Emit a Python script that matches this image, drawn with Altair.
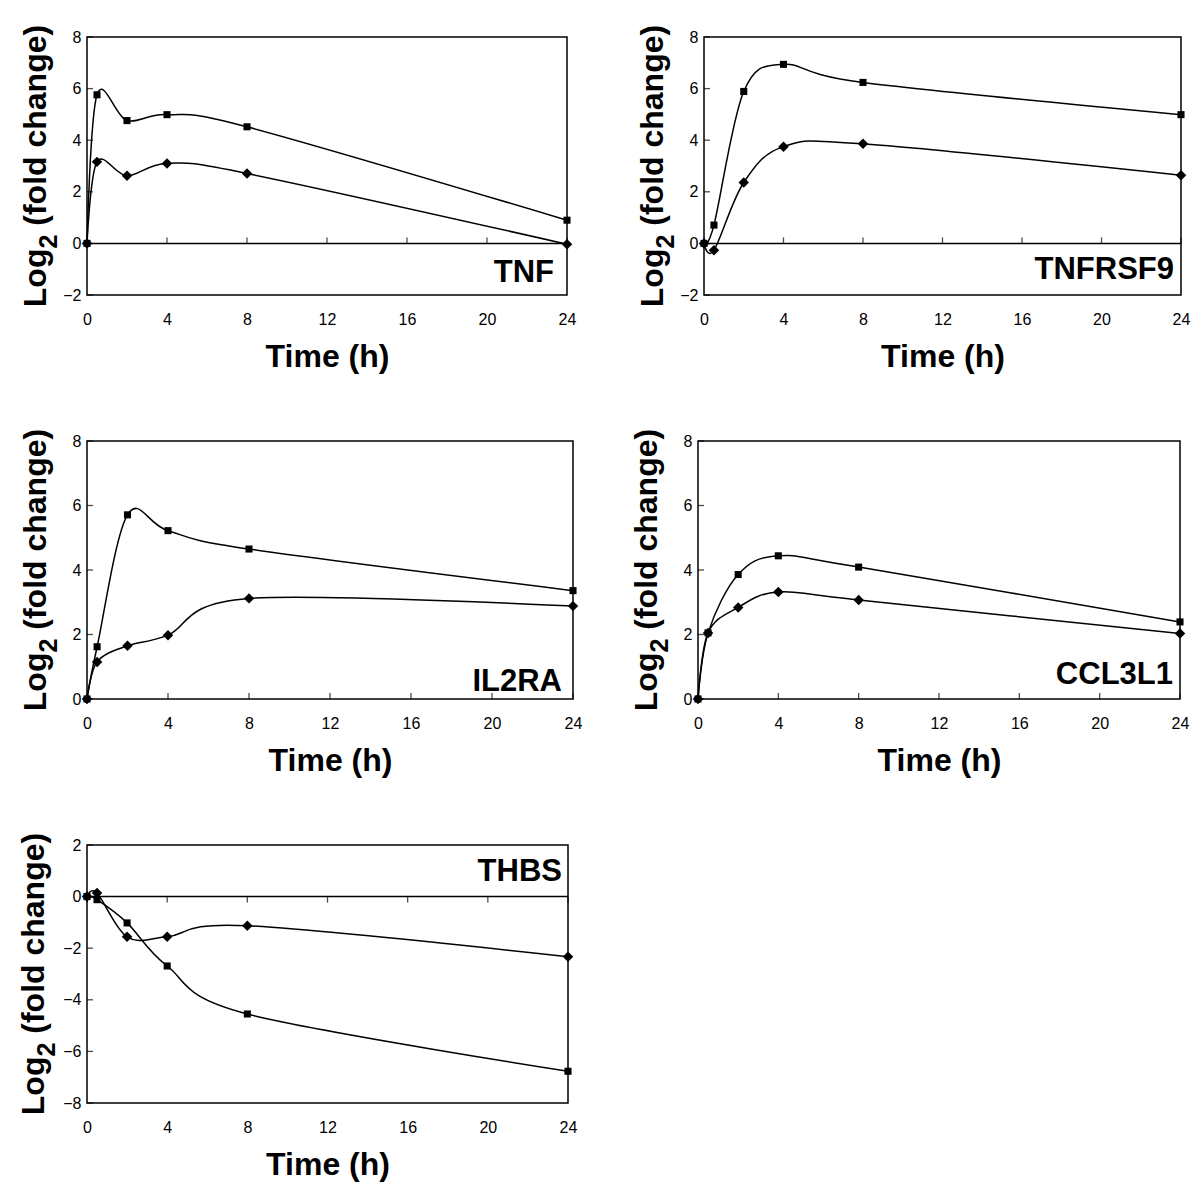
import altair as alt
import pandas as pd

# ---- data ----
TIME = [0, 0.5, 2, 4, 8, 24]

TNF_SQ = [0, 5.76, 4.76, 4.99, 4.52, 0.90]
TNF_DI = [0, 3.16, 2.62, 3.10, 2.71, -0.03]

TNFRSF9_SQ = [0, 0.71, 5.89, 6.94, 6.24, 4.99]
TNFRSF9_DI = [0, -0.27, 2.36, 3.75, 3.86, 2.64]

IL2RA_SQ = [0, 1.62, 5.71, 5.22, 4.65, 3.36]
IL2RA_DI = [0, 1.15, 1.65, 1.98, 3.12, 2.88]

CCL3L1_SQ = [0, 2.05, 3.86, 4.44, 4.09, 2.39]
CCL3L1_DI = [0, 2.05, 2.84, 3.32, 3.07, 2.03]

THBS_SQ = [0, -0.12, -1.02, -2.69, -4.55, -6.77]
THBS_DI = [0, 0.14, -1.56, -1.56, -1.13, -2.33]

X_TICKS = [0, 4, 8, 12, 16, 20, 24]
Y_TICKS_A = [-2, 0, 2, 4, 6, 8]
Y_TICKS_B = [0, 2, 4, 6, 8]
Y_TICKS_C = [-8, -6, -4, -2, 0, 2]

FONT = "Liberation Sans"
X_TITLE = "Time (h)"
Y_TITLE_MAIN = "Log"
Y_TITLE_SUB = "2"
Y_TITLE_REST = "(fold change)"

TITLE_SIZE = 32
SUB_SIZE = 25
# Arial/Liberation Sans Bold advance widths (per 1000 em) for layout of the rotated title
W_LOG = 1833 * TITLE_SIZE / 1000
W_SUB = 556 * SUB_SIZE / 1000
W_SPACE = 278 * TITLE_SIZE / 1000
W_REST = 6278 * TITLE_SIZE / 1000
W_TOTAL = W_LOG + W_SUB + W_SPACE + W_REST


def panel(gene, sq, di, yticks, w, h, lab_right, lab_y, title_base,
          tick_dir=-1, zero_line=True):
    ydom = [min(yticks), max(yticks)]
    sq_df = pd.DataFrame({"t": TIME, "v": sq, "s": "sq"})
    di_df = pd.DataFrame({"t": TIME, "v": di, "s": "di"})
    all_df = pd.concat([sq_df, di_df])

    X = alt.X("t:Q", scale=alt.Scale(domain=[0, 24], nice=False, zero=False),
              axis=alt.Axis(values=X_TICKS, title=X_TITLE))
    Y = alt.Y("v:Q", scale=alt.Scale(domain=ydom, nice=False, zero=False),
              axis=alt.Axis(values=yticks, title=None))

    layers = []
    if zero_line:
        layers.append(alt.Chart(pd.DataFrame({"t": [0], "v": [0]}))
                      .mark_rule(color="black", strokeWidth=1.5)
                      .encode(y=Y))
        layers.append(alt.Chart(pd.DataFrame({"t": X_TICKS, "v": [0] * len(X_TICKS)}))
                      .mark_tick(orient="vertical", size=6, thickness=1.3,
                                 color="black", yOffset=3 * tick_dir)
                      .encode(x=X, y=Y))
    else:
        layers.append(alt.Chart(pd.DataFrame({"t": X_TICKS, "v": [ydom[0]] * len(X_TICKS)}))
                      .mark_tick(orient="vertical", size=6, thickness=1.3,
                                 color="black", yOffset=-3)
                      .encode(x=X, y=Y))
    layers.append(alt.Chart(pd.DataFrame({"t": [0] * len(yticks), "v": yticks}))
                  .mark_tick(orient="horizontal", size=6, thickness=1.3,
                             color="black", xOffset=3)
                  .encode(x=X, y=Y))
    layers.append(alt.Chart(all_df)
                  .mark_line(interpolate="cardinal", color="black", strokeWidth=1.5)
                  .encode(x=X, y=Y, detail="s:N"))
    layers.append(alt.Chart(sq_df)
                  .mark_point(filled=True, color="black", opacity=1, shape="square", size=50)
                  .encode(x=X, y=Y))
    layers.append(alt.Chart(di_df)
                  .mark_point(filled=True, color="black", opacity=1, shape="diamond", size=110)
                  .encode(x=X, y=Y))
    lab_df = pd.DataFrame({"g": [gene]})
    layers.append(alt.Chart(lab_df)
                  .mark_text(font=FONT, fontSize=31, fontWeight="bold", align="right",
                             baseline="middle", color="black")
                  .encode(text="g:N", x=alt.value(w - lab_right), y=alt.value(lab_y)))

    # rotated y title: "Log" + subscript "2" + "(fold change)"
    start = h / 2 + W_TOTAL / 2
    common = dict(font=FONT, fontWeight="bold", angle=270, align="left",
                  baseline="alphabetic", color="black")
    layers.append(alt.Chart(lab_df)
                  .mark_text(text=Y_TITLE_MAIN, fontSize=TITLE_SIZE, **common)
                  .encode(x=alt.value(title_base), y=alt.value(start)))
    layers.append(alt.Chart(lab_df)
                  .mark_text(text=Y_TITLE_SUB, fontSize=SUB_SIZE, **common)
                  .encode(x=alt.value(title_base + 11), y=alt.value(start - W_LOG)))
    layers.append(alt.Chart(lab_df)
                  .mark_text(text=Y_TITLE_REST, fontSize=TITLE_SIZE, **common)
                  .encode(x=alt.value(title_base),
                          y=alt.value(start - W_LOG - W_SUB - W_SPACE)))
    return alt.layer(*layers).properties(width=w, height=h)


H = 258
p1 = panel("TNF", TNF_SQ, TNF_DI, Y_TICKS_A, 480, H, 13, 236, -41, tick_dir=-1)
p2 = panel("TNFRSF9", TNFRSF9_SQ, TNFRSF9_DI, Y_TICKS_A, 477, H, 7, 233, -41, tick_dir=-1)
p3 = panel("IL2RA", IL2RA_SQ, IL2RA_DI, Y_TICKS_B, 486, H, 11, 241, -41, zero_line=False)
p4 = panel("CCL3L1", CCL3L1_SQ, CCL3L1_DI, Y_TICKS_B, 482, H, 7, 234, -41, zero_line=False)
p5 = panel("THBS", THBS_SQ, THBS_DI, Y_TICKS_C, 481, H, 6, 27, -43, tick_dir=1)

row1 = alt.hconcat(p1, p2, spacing=59)
row2 = alt.hconcat(p3, p4, spacing=47)

chart = (alt.vconcat(row1, row2, p5, spacing=55)
         .properties(padding={"left": 9, "top": 16, "right": 0, "bottom": 2})
         .configure_view(stroke="black", strokeWidth=1.5)
         .configure_axis(labelFont=FONT, labelFontSize=16, labelColor="black",
                         labelFlush=False,
                         titleFont=FONT, titleFontSize=TITLE_SIZE, titleFontWeight="bold",
                         titleColor="black", ticks=False, domain=False, grid=False)
         .configure_axisX(labelPadding=16, titlePadding=14)
         .configure_axisY(labelPadding=6))

chart.save("out.html", embed_options={"renderer": "svg", "actions": False})
